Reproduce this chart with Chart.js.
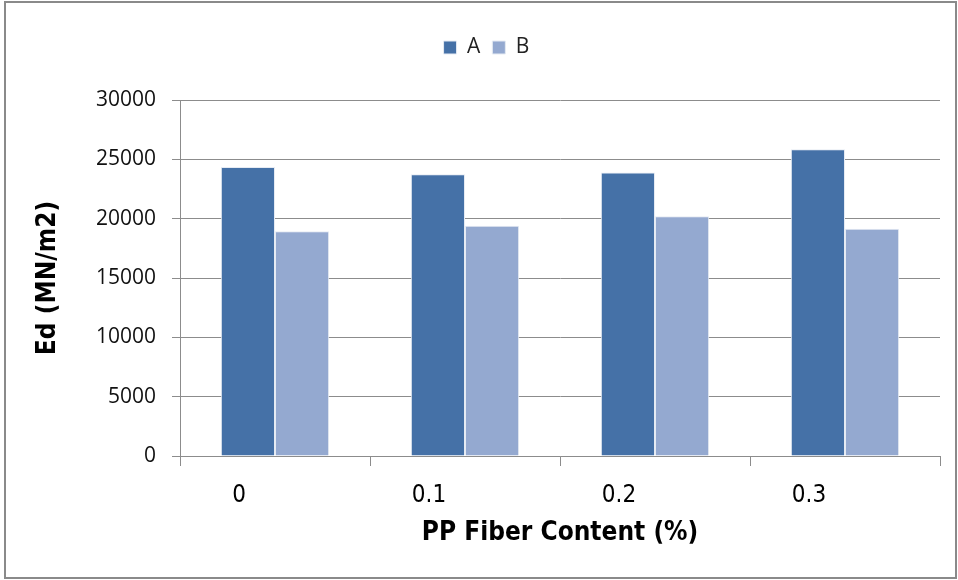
<!DOCTYPE html>
<html>
<head>
<meta charset="utf-8">
<script src="https://cdn.jsdelivr.net/npm/chart.js@4.4.1/dist/chart.umd.min.js"></script>
<style>
  html, body { margin: 0; padding: 0; background: #fff; }
  #wrap { width: 958px; height: 580px; position: relative; }
</style>
</head>
<body>
<div id="wrap"><canvas id="chart"></canvas></div>
<script>
// Veriler
const categories = ['0', '0.1', '0.2', '0.3'];
const seriesA = [24350, 23750, 23900, 25850];
const seriesB = [18950, 19400, 20200, 19150];
const yTicks = [0, 5000, 10000, 15000, 20000, 25000, 30000];

// Dış çerçeve
const framePlugin = {
    id: 'frame',
    afterDraw(chart) {
        const c = chart.ctx;
        c.save();
        c.strokeStyle = '#8a8a8a';
        c.lineWidth = 2;
        c.strokeRect(5, 2, 951, 576);
        c.restore();
    }
};

// Lejant altına ek boşluk
const legendGap = {
    id: 'legendGap',
    beforeInit(chart) {
        const origFit = chart.legend.fit;
        chart.legend.fit = function () {
            origFit.bind(chart.legend)();
            this.height += 32;
        };
    }
};

const ctx = document.getElementById('chart').getContext('2d');
const chart = new Chart(ctx, {
    type: 'bar',
    data: {
        labels: categories,
        datasets: [
            {
                label: 'A',
                data: seriesA,
                backgroundColor: '#4571a7',
                borderColor: '#e6ebf3',
                borderWidth: 1
            },
            {
                label: 'B',
                data: seriesB,
                backgroundColor: '#94a9d0',
                borderColor: '#e6ebf3',
                borderWidth: 1
            }
        ]
    },
    options: {
        responsive: true,
        maintainAspectRatio: false,
        animation: false,
        layout: { padding: { left: 33, right: 18, top: 25, bottom: 31 } },
        plugins: {
            legend: {
                position: 'top',
                labels: {
                    boxWidth: 13,
                    boxHeight: 13,
                    padding: 12,
                    color: '#222',
                    font: { family: 'Open Sans', size: 21 }
                }
            },
            tooltip: { enabled: false }
        },
        datasets: {
            bar: { categoryPercentage: 0.57, barPercentage: 1.0 }
        },
        scales: {
            x: {
                grid: {
                    offset: true,
                    drawOnChartArea: false,
                    drawTicks: true,
                    tickLength: 10,
                    color: '#8c8c8c'
                },
                border: { color: '#8c8c8c' },
                ticks: {
                    color: '#000',
                    labelOffset: -36,
                    padding: 15,
                    font: { family: 'DejaVu Sans Condensed', size: 24 }
                },
                title: {
                    display: true,
                    text: 'PP Fiber Content (%)',
                    color: '#000',
                    padding: { top: 2, bottom: 0 },
                    font: { family: 'DejaVu Sans Condensed', size: 26, weight: 'bold' }
                },
                afterFit(scale) { scale.height = 93; }
            },
            y: {
                min: 0,
                max: 30000,
                afterBuildTicks(scale) {
                    scale.ticks = yTicks.map(v => ({ value: v }));
                },
                grid: {
                    color: '#8c8c8c',
                    tickLength: 8
                },
                border: { color: '#8c8c8c' },
                ticks: {
                    color: '#111',
                    padding: 16,
                    font: { family: 'Open Sans', size: 21 },
                    callback: v => String(v)
                },
                title: {
                    display: true,
                    text: 'Ed (MN/m2)',
                    color: '#000',
                    padding: { top: 0, bottom: 4 },
                    font: { family: 'DejaVu Sans Condensed', size: 26, weight: 'bold' }
                },
                afterFit(scale) { scale.width = 147; }
            }
        }
    },
    plugins: [framePlugin, legendGap]
});
</script>
</body>
</html>
